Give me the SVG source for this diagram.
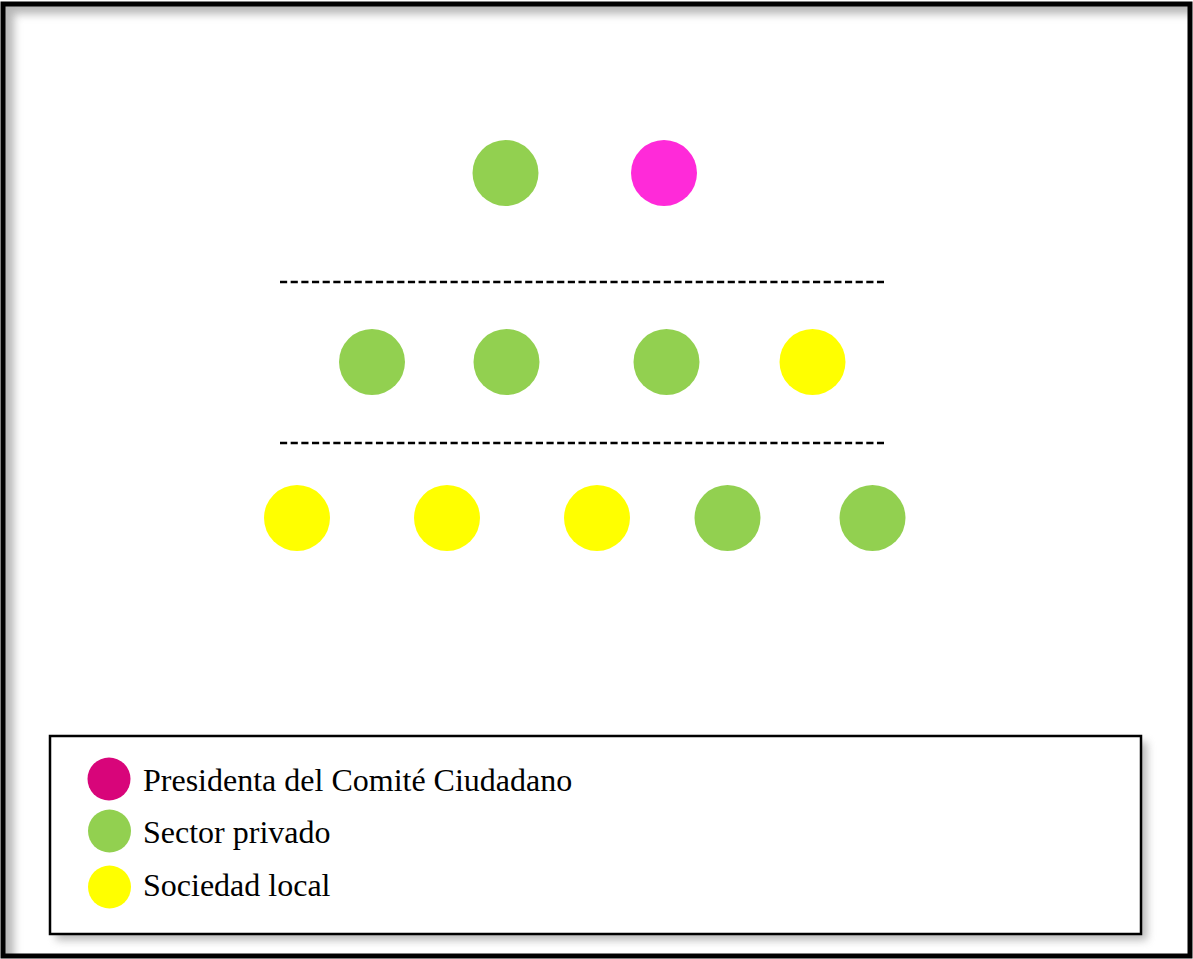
<svg xmlns="http://www.w3.org/2000/svg" width="1193" height="959" viewBox="0 0 1193 959">
  <defs>
    <filter id="softShadow" x="-5%" y="-5%" width="110%" height="115%">
      <feGaussianBlur stdDeviation="4"/>
    </filter>
    <clipPath id="frameClip">
      <rect x="5" y="6" width="1183" height="948"/>
    </clipPath>
  </defs>
  <style>
    .green { fill: #92D050; }
    .yellow { fill: #FFFF00; }
    .pink { fill: #FF2AD9; }
    .legendPink { fill: #D8057A; }
    .sep { stroke: #000; stroke-width: 2.6; stroke-dasharray: 7.16 3.5; fill: none; }
    .label { font-family: "Liberation Serif", "Times New Roman", serif; font-size: 32px; fill: #000; }
  </style>

  <rect x="0" y="0" width="1193" height="959" fill="#fff"/>

  <!-- inner shadow of the outer frame (top and left edges) -->
  <g clip-path="url(#frameClip)">
    <path d="M -20 -20 H 1210 V 14 H 14 V 980 H -20 Z" fill="#9a9a9a" filter="url(#softShadow)" opacity="0.7"/>
  </g>

  <!-- outer frame -->
  <rect x="3" y="4" width="1187" height="952" fill="none" stroke="#000" stroke-width="5"/>

  <!-- separators between rows -->
  <g id="separators">
    <line class="sep" x1="280" y1="282" x2="884" y2="282"/>
    <line class="sep" x1="280" y1="443" x2="884" y2="443"/>
  </g>

  <!-- top row -->
  <g id="row1">
    <circle id="n1" class="green" cx="505.5" cy="173" r="33"/>
    <circle id="n2" class="pink" cx="664" cy="173" r="33"/>
  </g>

  <!-- middle row -->
  <g id="row2">
    <circle id="n3" class="green" cx="372" cy="362" r="33"/>
    <circle id="n4" class="green" cx="506.5" cy="362" r="33"/>
    <circle id="n5" class="green" cx="666.5" cy="362" r="33"/>
    <circle id="n6" class="yellow" cx="812.5" cy="362" r="33"/>
  </g>

  <!-- bottom row -->
  <g id="row3">
    <circle id="n7" class="yellow" cx="297" cy="518" r="33"/>
    <circle id="n8" class="yellow" cx="447" cy="518" r="33"/>
    <circle id="n9" class="yellow" cx="597" cy="518" r="33"/>
    <circle id="n10" class="green" cx="727.5" cy="518" r="33"/>
    <circle id="n11" class="green" cx="872.5" cy="518" r="33"/>
  </g>

  <!-- legend -->
  <g id="legend">
    <rect x="56" y="742" width="1091" height="198" fill="#888" filter="url(#softShadow)" opacity="0.6"/>
    <rect x="50" y="736" width="1091" height="198" fill="#fff" stroke="#000" stroke-width="2.5"/>
    <circle class="legendPink" cx="109" cy="779" r="21.5"/>
    <text class="label" x="143" y="791">Presidenta del Comité Ciudadano</text>
    <circle class="green" cx="109.5" cy="831" r="21.5"/>
    <text class="label" x="143" y="843">Sector privado</text>
    <circle class="yellow" cx="109.5" cy="887" r="21.5"/>
    <text class="label" x="143" y="896">Sociedad local</text>
  </g>
</svg>
